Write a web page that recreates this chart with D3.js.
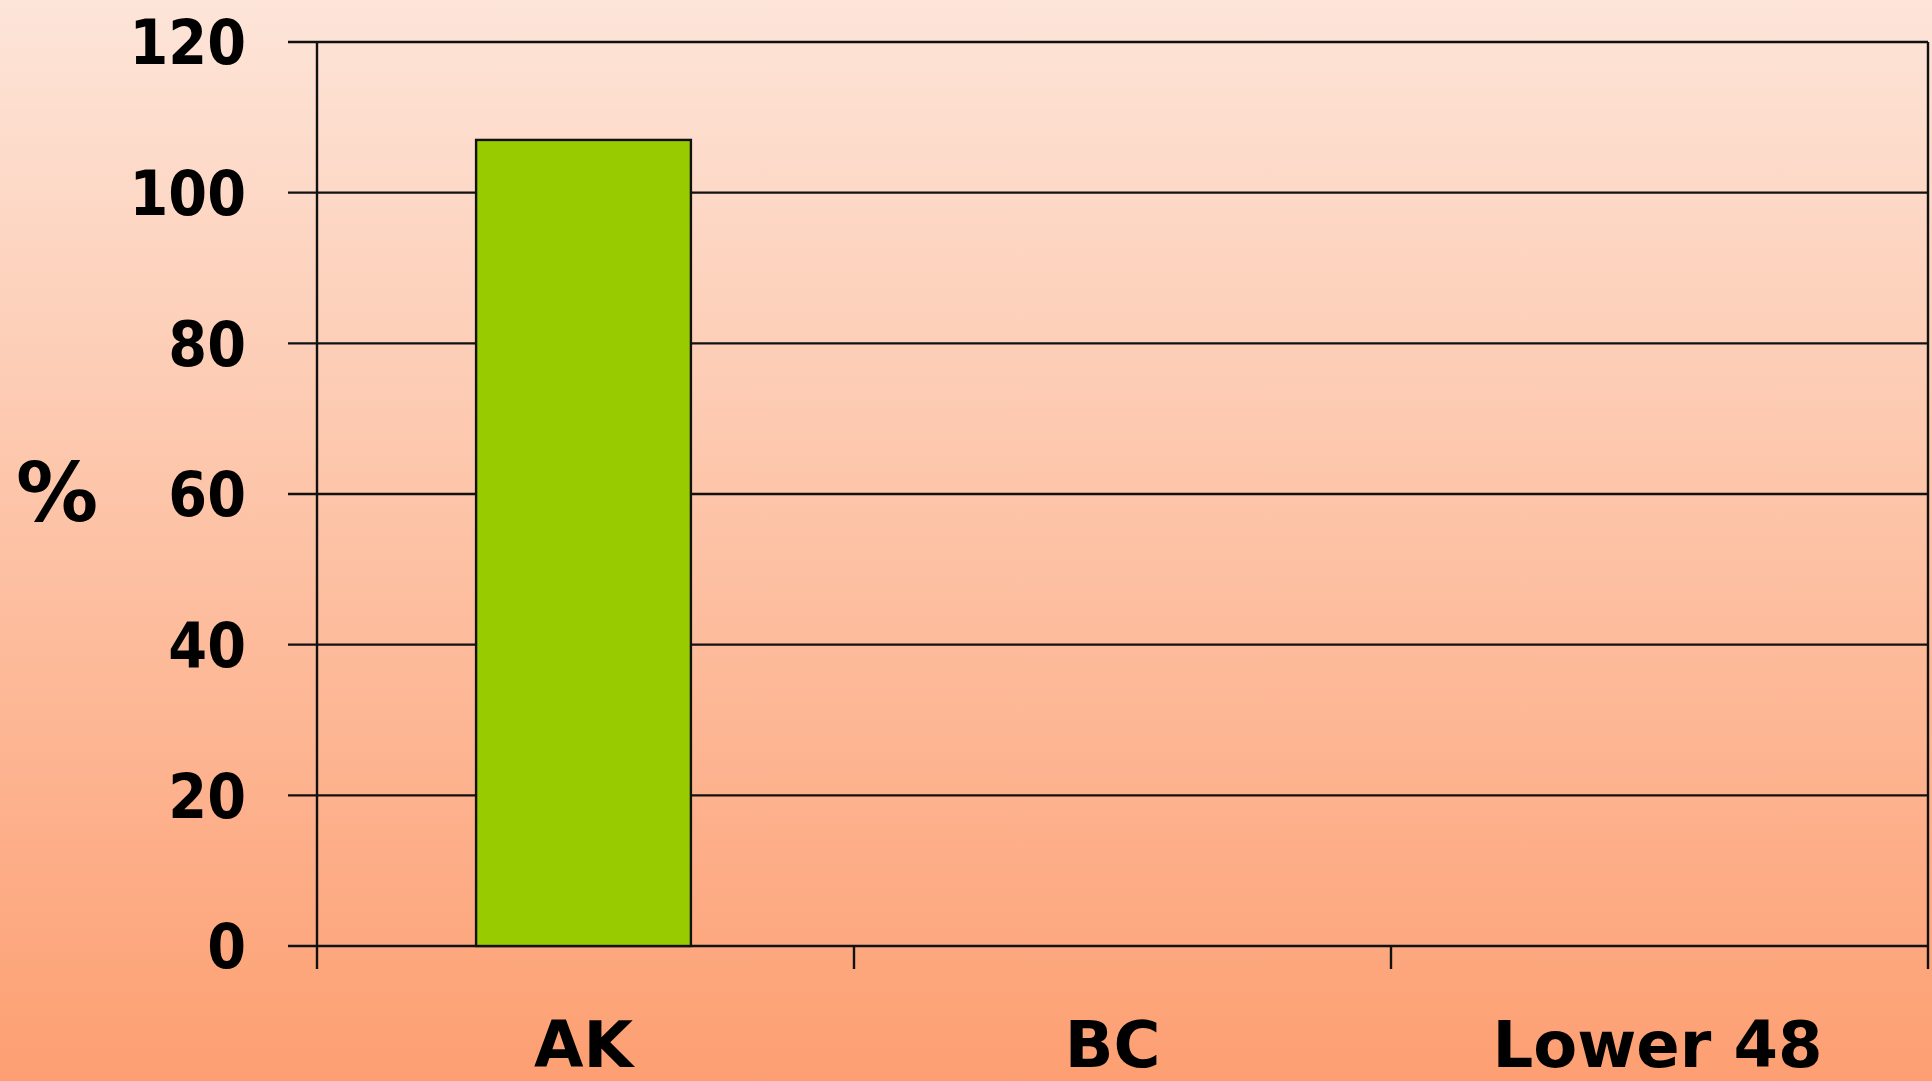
<!DOCTYPE html>
<html>
<head>
<meta charset="utf-8">
<script src="https://cdn.jsdelivr.net/npm/d3@7"></script>
<style>
  html, body { margin: 0; padding: 0; overflow: hidden; }
  svg { display: block; }
  text { font-family: "DejaVu Sans", Verdana, sans-serif; font-weight: bold; fill: #000; }
</style>
</head>
<body>
<script>
// Share of target reached, by region
const categories = ["AK", "BC", "Lower 48"];
const values = [107, null, null];
const yTicks = [0, 20, 40, 60, 80, 100, 120];
const yLabel = "%";

const W = 1932, H = 1081;
const margin = { left: 317, right: 4, top: 42, bottom: 135 };

const svg = d3.select("body").append("svg")
  .attr("width", W).attr("height", H);

// Background wash: pale peach at the top, deeper salmon at the bottom
const defs = svg.append("defs");
const grad = defs.append("linearGradient")
  .attr("id", "bg").attr("x1", 0).attr("y1", 0).attr("x2", 0).attr("y2", 1);
grad.append("stop").attr("offset", "0%").attr("stop-color", "#fde5d9");
grad.append("stop").attr("offset", "50%").attr("stop-color", "#fdc2a5");
grad.append("stop").attr("offset", "100%").attr("stop-color", "#fd9f72");
svg.append("rect").attr("width", W).attr("height", H).attr("fill", "url(#bg)");

const x = d3.scaleBand()
  .domain(categories)
  .range([margin.left, W - margin.right])
  .padding(0);

const y = d3.scaleLinear()
  .domain([0, 120])
  .range([H - margin.bottom, margin.top]);

const plotL = margin.left, plotR = W - margin.right;
const lineW = 2.4;

// Horizontal gridlines with short outward ticks on the left
svg.append("g").selectAll("line")
  .data(yTicks)
  .join("line")
  .attr("x1", plotL - 29)
  .attr("x2", plotR)
  .attr("y1", d => y(d))
  .attr("y2", d => y(d))
  .attr("stroke", "#111")
  .attr("stroke-width", lineW);

// Y axis line and right frame edge
[plotL, plotR].forEach(px => {
  svg.append("line")
    .attr("x1", px).attr("x2", px)
    .attr("y1", y(120)).attr("y2", y(0) + 23)
    .attr("stroke", "#111").attr("stroke-width", lineW);
});

// Category boundary ticks below the baseline
svg.append("g").selectAll("line")
  .data(categories.slice(1).map(c => x(c)))
  .join("line")
  .attr("x1", d => d).attr("x2", d => d)
  .attr("y1", y(0)).attr("y2", y(0) + 23)
  .attr("stroke", "#111").attr("stroke-width", lineW);

// Y tick labels (slightly condensed bold digits)
svg.append("g").selectAll("text")
  .data(yTicks)
  .join("text")
  .attr("transform", d => `translate(${plotL - 71},${y(d)}) scale(0.9,1)`)
  .attr("dy", "0.36em")
  .attr("text-anchor", "end")
  .attr("font-size", 62)
  .text(d => d);

// Bars
const barFrac = 0.4;
svg.append("g").selectAll("rect")
  .data(categories.map((c, i) => ({ c, v: values[i] })).filter(d => d.v != null))
  .join("rect")
  .attr("x", d => x(d.c) + x.bandwidth() * (1 - barFrac) / 2 - 2)
  .attr("width", x.bandwidth() * barFrac)
  .attr("y", d => y(d.v))
  .attr("height", d => y(0) - y(d.v))
  .attr("fill", "#99cc00")
  .attr("stroke", "#111")
  .attr("stroke-width", lineW);

// Category labels
svg.append("g").selectAll("text")
  .data(categories)
  .join("text")
  .attr("x", (d, i) => x(d) + x.bandwidth() / 2 - (i === 1 ? 10 : 2))
  .attr("y", 1067)
  .attr("text-anchor", "middle")
  .attr("font-size", 64)
  .text(d => d);

// Y axis title
svg.append("text")
  .attr("x", 57)
  .attr("y", 491)
  .attr("dy", "0.36em")
  .attr("text-anchor", "middle")
  .attr("font-size", 82)
  .text(yLabel);
</script>
</body>
</html>
